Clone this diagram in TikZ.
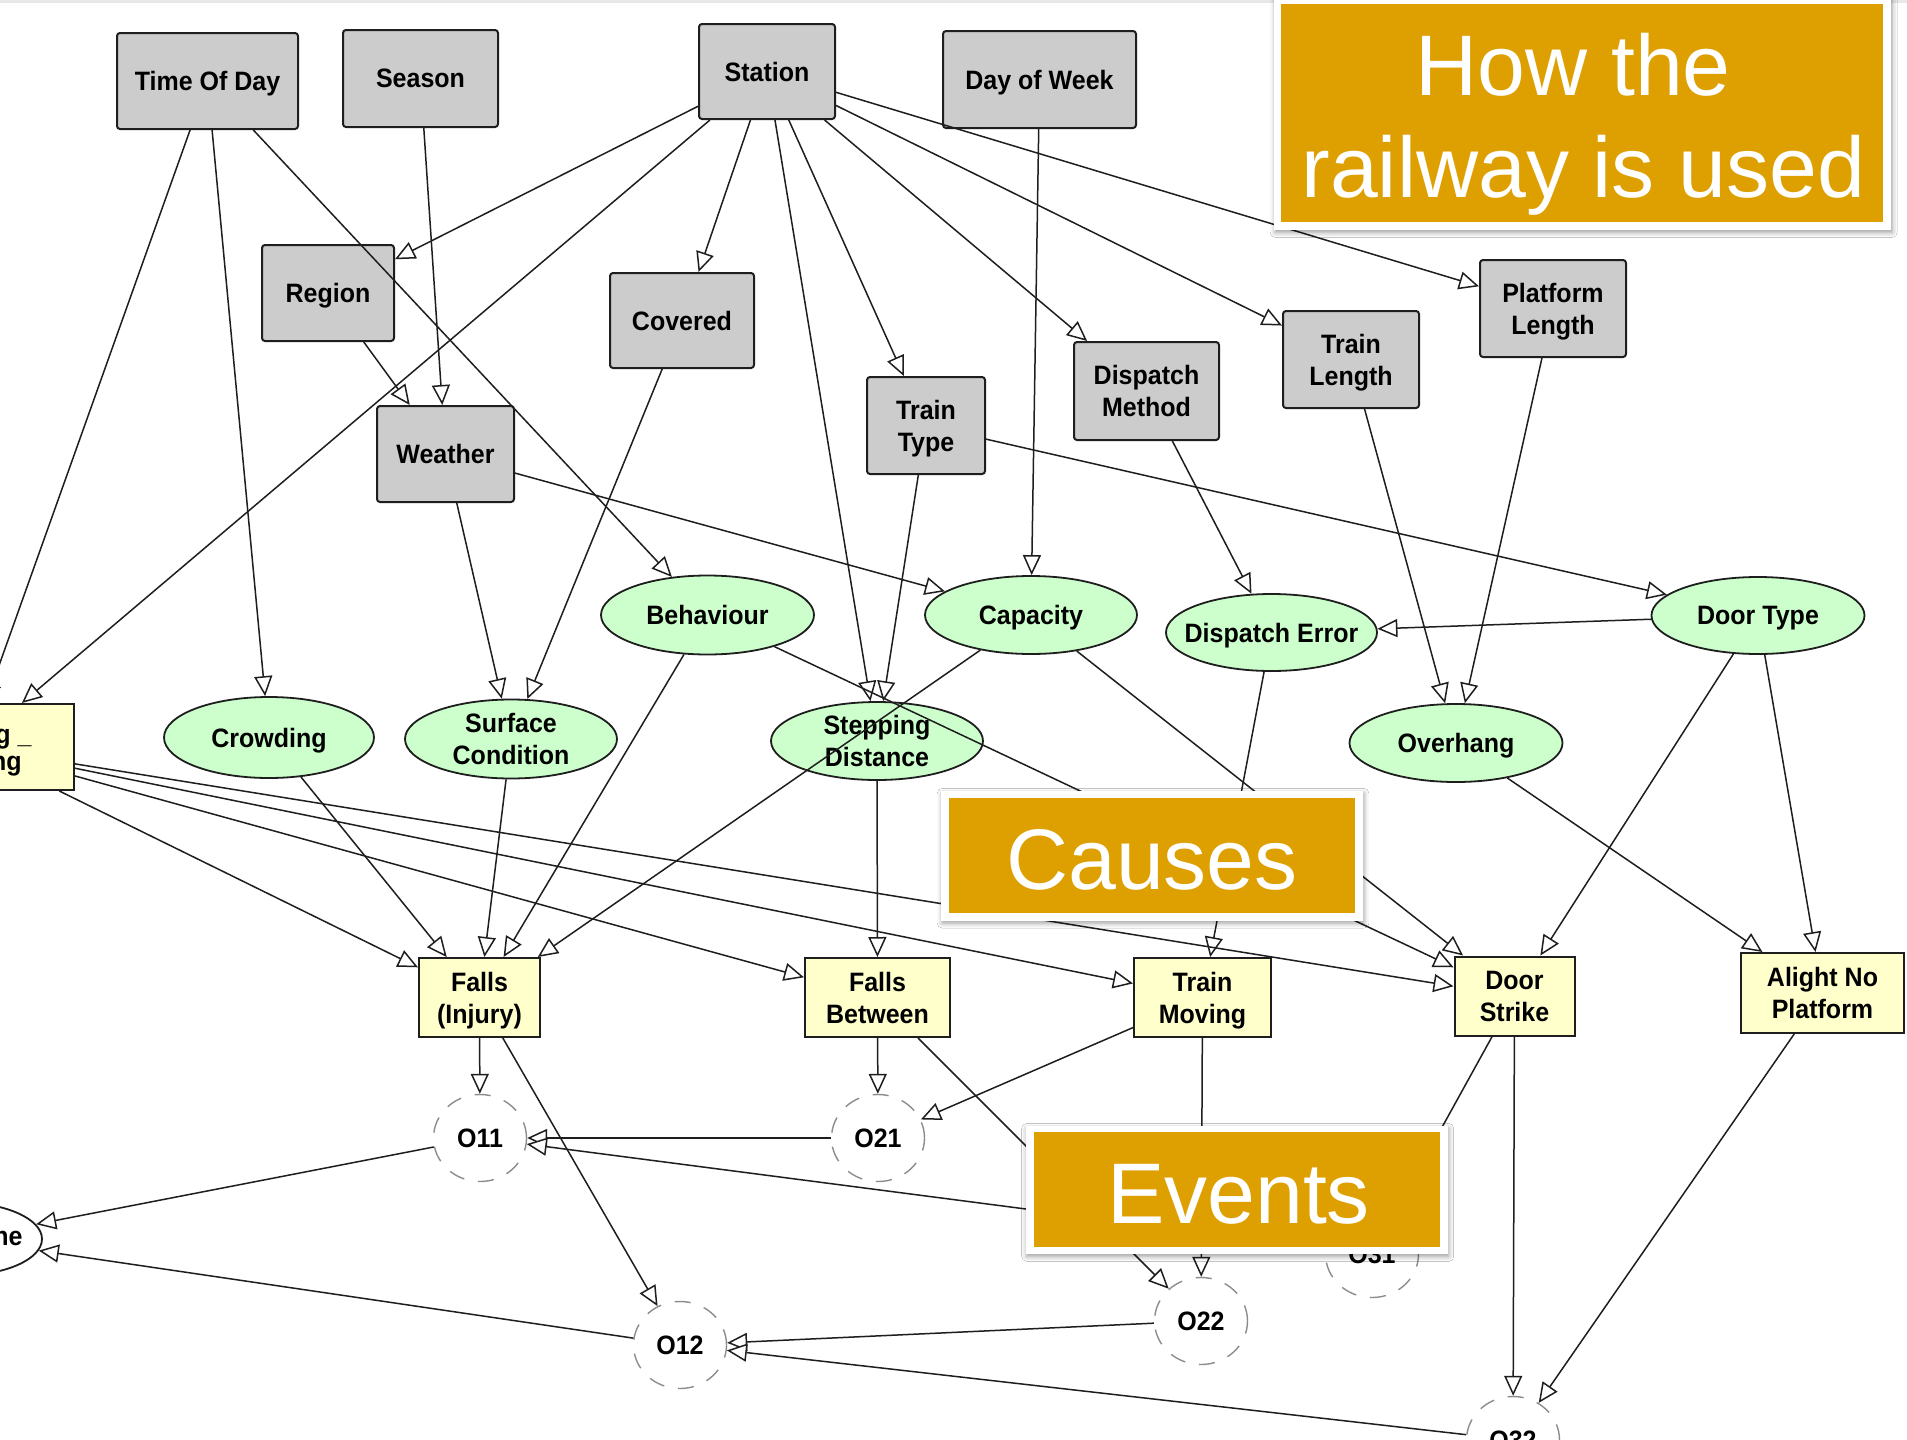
\documentclass[tikz,border=0pt]{standalone}
\usepackage{fontspec}
\setmainfont{Liberation Sans}
\newfontfamily\nodefont{Liberation Sans}[FakeStretch=0.94]
\newfontfamily\calloutfont{Liberation Sans}
\usetikzlibrary{arrows.meta,shapes.geometric,shadows.blur}

\definecolor{boxgray}{RGB}{204,204,204}
\definecolor{ellgreen}{RGB}{204,255,204}
\definecolor{boxyellow}{RGB}{255,255,204}
\definecolor{callgold}{RGB}{222,160,0}
\definecolor{edgeink}{RGB}{30,30,30}

\tikzset{
  lbl/.style={font=\nodefont\bfseries\fontsize{13.3pt}{16pt}\selectfont, align=center, text=black, text depth=0pt},
  gbox/.style={lbl, rectangle, rounded corners=1.5pt, draw=edgeink, line width=1pt, fill=boxgray, inner sep=0pt},
  gell/.style={lbl, ellipse, draw=edgeink, line width=0.9pt, fill=ellgreen, inner xsep=-15pt, inner ysep=-6pt},
  ybox/.style={lbl, rectangle, draw=edgeink, line width=1pt, fill=boxyellow, inner sep=0pt},
  onode/.style={lbl, ellipse, draw=black!45, line width=0.7pt, dash pattern=on 8pt off 7pt,
                fill=white, minimum width=46.5pt, minimum height=43.5pt, inner sep=0pt},
  sz/.style 2 args={minimum width=#1, minimum height=#2},
  arr/.style={draw=edgeink, line width=0.75pt, -{Triangle[length=10pt,width=9pt,fill=white]}},
  callframe/.style={rectangle, fill=white, inner sep=0pt,
                    blur shadow={shadow xshift=0.6pt, shadow yshift=-1.2pt, shadow blur radius=2.5pt, shadow opacity=40}},
  callfill/.style={rectangle, fill=callgold, inner sep=0pt},
  calltext/.style={font=\calloutfont\fontsize{43pt}{51pt}\selectfont, text=white, inner sep=0pt, anchor=base},
}

\begin{document}
\begin{tikzpicture}[x=0.5pt, y=-0.5pt]
\useasboundingbox (0,0) rectangle (1907,1440);
\clip (0,0) rectangle (1907,1440);
\fill[white] (0,0) rectangle (1907,1440);
\fill[black!9] (0,0) rectangle (1907,2.5);

% context variables (grey boxes)
\node[gbox, sz={90.5pt}{48pt}]   (tod)     at (207.5,81)   {Time Of Day};
\node[gbox, sz={77.5pt}{48.5pt}] (season)  at (420.5,78.5) {Season};
\node[gbox, sz={68pt}{47.5pt}]   (station) at (767,71.5)   {Station};
\node[gbox, sz={96.5pt}{48.5pt}] (dow)     at (1039.5,79.5){Day of Week};
\node[gbox, sz={66pt}{48pt}]     (region)  at (328,293)    {Region};
\node[gbox, sz={72pt}{47.5pt}]   (covered) at (682,320.5)  {Covered};
\node[gbox, sz={68.5pt}{48pt}]   (weather) at (445.5,454)  {Weather};
\node[gbox, sz={59pt}{48.5pt}]   (ttype)   at (926,425.5)  {Train\\Type};
\node[gbox, sz={72.5pt}{49pt}]   (dmethod) at (1146.5,391) {Dispatch\\Method};
\node[gbox, sz={68pt}{48.5pt}]   (tlength) at (1351,359.5) {Train\\Length};
\node[gbox, sz={73pt}{48.5pt}]   (plength) at (1553,308.5) {Platform\\Length};

% causes (green ellipses)
\node[gell, sz={105pt}{40.5pt}]   (crowding)  at (269,737.5)  {Crowding};
\node[gell, sz={106pt}{39.5pt}]   (surface)   at (511,739)    {Surface\\Condition};
\node[gell, sz={106.5pt}{39.5pt}] (behaviour) at (707.5,615)  {Behaviour};
\node[gell, sz={106pt}{39pt}]     (capacity)  at (1031,615)   {Capacity};
\node[gell, sz={105.5pt}{38.5pt}] (derror)    at (1271.5,632.5) {Dispatch Error};
\node[gell, sz={106pt}{39pt}]     (stepping)  at (877,741)    {Stepping\\Distance};
\node[gell, sz={106.5pt}{38.5pt}] (doortype)  at (1758,615.5) {Door Type};
\node[gell, sz={106.5pt}{39pt}]   (overhang)  at (1456,743)   {Overhang};

% events (yellow boxes)
\node[ybox, sz={104pt}{43pt}]     (lbox)     at (-30,747)     {};
\node[lbl, anchor=base east, inner sep=0pt] (lboxa) at (32,743) {g \_};
\node[lbl, anchor=base east, inner sep=0pt] (lboxb) at (22,770) {ng};
\node[ybox, sz={60.5pt}{39.5pt}]  (fallsinj) at (479.5,997.5)  {Falls\\(Injury)};
\node[ybox, sz={72.5pt}{39.5pt}]  (fallsbet) at (877.5,997.5)  {Falls\\Between};
\node[ybox, sz={68.5pt}{39.5pt}]  (tmoving)  at (1202.5,997.5) {Train\\Moving};
\node[ybox, sz={60pt}{39.5pt}]    (dstrike)  at (1514.5,996)   {Door\\Strike};
\node[ybox, sz={81.5pt}{40pt}]    (alight)   at (1822.5,993)   {Alight No\\Platform};

% outcomes (dashed circles)
\node[onode] (o11) at (480,1138)  {O11};
\node[onode] (o21) at (878,1138)  {O21};
\node[onode] (o12) at (680,1345)  {O12};
\node[onode] (o22) at (1201,1321) {O22};
\node[onode] (o31) at (1372,1254) {O31};
\node[onode] (o32) at (1513,1440) {O32};

% outcome summary node at the left edge
\node[ellipse, draw=edgeink, line width=0.9pt, fill=white, sz={82pt}{36.5pt}] (outc) at (-40,1239) {};
\node[lbl, anchor=base east, inner sep=0pt] (outctxt) at (23,1245) {ne};

% connectors
\draw[arr] (tod) -- (lbox);
\draw[arr] (tod) -- (crowding);
\draw[arr] (tod) -- (behaviour);
\draw[arr] (season) -- (weather);
\draw[arr] (region) -- (weather);
\draw[arr] (station) -- (region);
\draw[arr] (station) -- (lbox);
\draw[arr] (station) -- (covered);
\draw[arr] (station) -- (stepping);
\draw[arr] (station) -- (ttype);
\draw[arr] (station) -- (dmethod);
\draw[arr] (station) -- (tlength);
\draw[arr] (station) -- (plength);
\draw[arr] (dow) -- (capacity);
\draw[arr] (weather) -- (surface);
\draw[arr] (weather) -- (capacity);
\draw[arr] (covered) -- (surface);
\draw[arr] (ttype) -- (stepping);
\draw[arr] (ttype) -- (doortype);
\draw[arr] (dmethod) -- (derror);
\draw[arr] (tlength) -- (overhang);
\draw[arr] (plength) -- (overhang);
\draw[arr] (doortype) -- (derror);
\draw[arr] (doortype) -- (dstrike);
\draw[arr] (doortype) -- (alight);
\draw[arr] (overhang) -- (alight);
\draw[arr] (behaviour) -- (fallsinj);
\draw[arr] (behaviour) -- (dstrike);
\draw[arr] (capacity) -- (fallsinj);
\draw[arr] (capacity) -- (dstrike);
\draw[arr] (derror) -- (tmoving);
\draw[arr] (stepping) -- (fallsbet);
\draw[arr] (crowding) -- (fallsinj);
\draw[arr] (surface) -- (fallsinj);
\draw[arr] (lbox) -- (fallsinj);
\draw[arr] (lbox) -- (fallsbet);
\draw[arr] (lbox) -- (tmoving);
\draw[arr] (lbox) -- (dstrike);
\draw[arr] (fallsinj) -- (o11);
\draw[arr] (fallsinj) -- (o12);
\draw[arr] (fallsbet) -- (o21);
\draw[arr] (fallsbet) -- (o22);
\draw[arr] (tmoving) -- (o21);
\draw[arr] (tmoving) -- (o22);
\draw[arr] (dstrike) -- (o31);
\draw[arr] (dstrike) -- (o32);
\draw[arr] (alight) -- (o32);
\draw[arr] (o21) -- (o11);
\draw[arr] (o31) -- (o11);
\draw[arr] (o22) -- (o12);
\draw[arr] (o32) -- (o12);
\draw[arr] (o11) -- (outc);
\draw[arr] (o12) -- (outc);

% section callouts
\node[callframe, sz={308.5pt}{117.5pt}] (hdrframe) at (1582.5,112.5) {};
\node[callfill, sz={301pt}{109pt}] (hdr) at (1582,113) {};
\node[calltext] (hdrA) at (1573,95) {How the};
\node[calltext] (hdrB) at (1583.5,197) {railway is used};

\node[callframe, sz={210.85pt}{64.85pt}] (causesframe) at (1151.85,855.85) {};
\node[callfill, sz={203pt}{57.5pt}] (causes) at (1152,855) {};
\node[calltext] (causestxt) at (1152,889) {Causes};

\node[callframe, sz={211pt}{64pt}] (eventsframe) at (1236.5,1190) {};
\node[callfill, sz={203pt}{57.5pt}] (events) at (1237,1189.5) {};
\node[calltext] (eventstxt) at (1238.5,1223) {Events};
\end{tikzpicture}
\end{document}
